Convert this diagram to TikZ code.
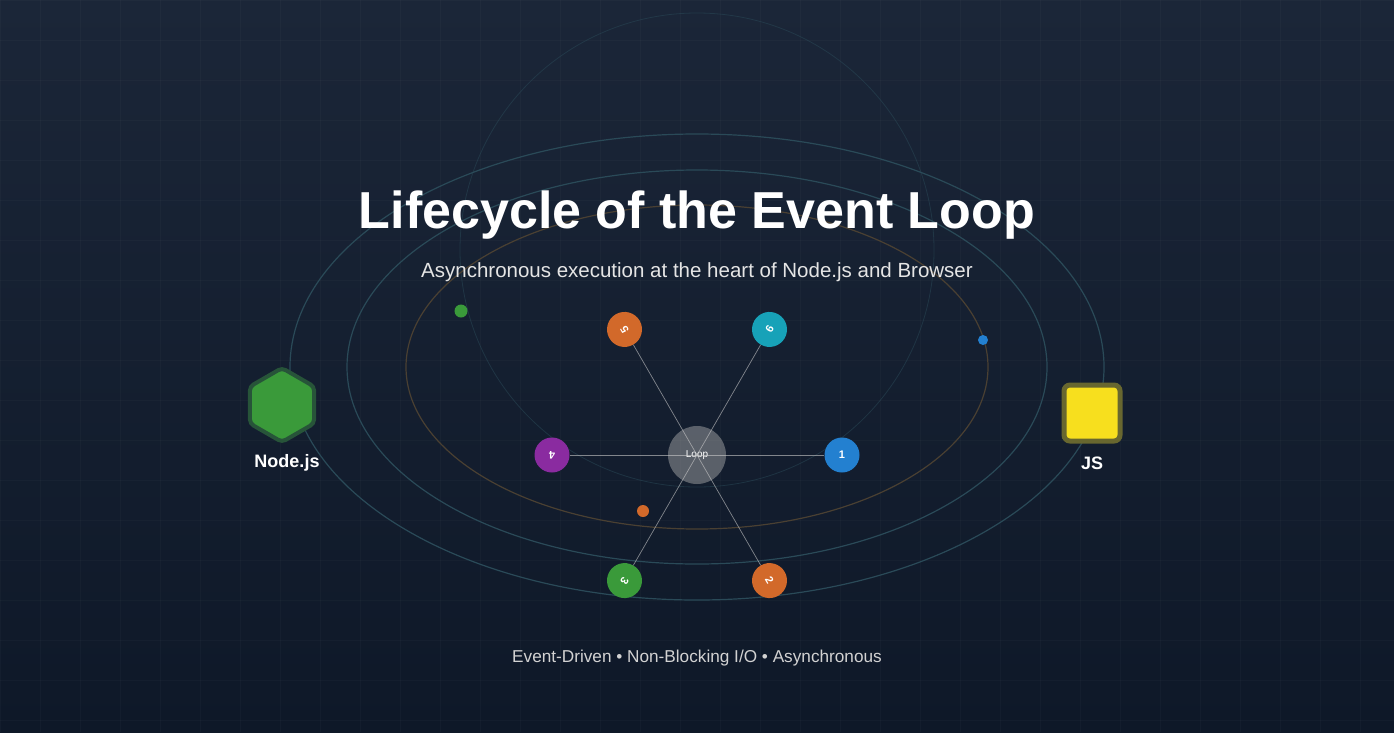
\documentclass[tikz,border=0pt]{standalone}
\usepackage{fontspec}
\setmainfont{Liberation Sans}
\usetikzlibrary{shapes.geometric, positioning, calc}
\definecolor{bgtop}{HTML}{1B2638}
\definecolor{bgbot}{HTML}{0E1828}
\definecolor{orbit}{HTML}{2A4A58}
\definecolor{orbitin}{HTML}{4A4032}
\definecolor{stepOrange}{HTML}{D2692A}
\definecolor{stepTeal}{HTML}{17A2B8}
\definecolor{stepGreen}{HTML}{3A9A3A}
\definecolor{stepPurple}{HTML}{8A2BA0}
\definecolor{stepBlue}{HTML}{2380D0}
\definecolor{jsyellow}{HTML}{F7DF1E}

\begin{document}
\begin{tikzpicture}[x=1pt, y=-1pt,
    phase/.style={circle, minimum size=35pt, inner sep=0pt, text=white, font=\bfseries\fontsize{11}{11}\selectfont},
    spoke/.style={draw=white!60!gray, opacity=0.6, line width=0.7pt},
    dot/.style={circle, inner sep=0pt}]
    % Background
    \shade[top color=bgtop, bottom color=bgbot] (0,0) rectangle (1394,732);
    \useasboundingbox (0,0) rectangle (1394,732);
    \foreach \gx in {0,40,...,1394} \draw[white, opacity=0.025] (\gx,0) -- (\gx,732);
    \foreach \gy in {0,40,...,732} \draw[white, opacity=0.025] (0,\gy) -- (1394,\gy);

    % Orbits
    \draw[orbit, opacity=0.5, line width=0.8pt] (697,250) circle (237);
    \draw[orbit, line width=1.2pt] (697,367) ellipse (407 and 233);
    \draw[orbit, line width=1.2pt] (697,367) ellipse (350 and 197);
    \draw[orbitin, line width=1.2pt] (697,367) ellipse (291 and 162);

    % Floating dots
    \node[dot, fill=stepGreen, minimum size=13pt] (d1) at (461,311) {};
    \node[dot, fill=stepBlue, minimum size=10pt] (d2) at (983,340) {};
    \node[dot, fill=stepOrange, minimum size=12pt] (d3) at (643,511) {};

    % Loop and phases
    \node[circle, fill=white!40!gray, fill opacity=0.45, minimum size=58pt, inner sep=0pt,
          text=white, text opacity=1, font=\fontsize{10}{10}\selectfont] (loop) at (697,455) {Loop};
    \foreach \i/\c in {1/stepBlue, 2/stepOrange, 3/stepGreen, 4/stepPurple, 5/stepOrange, 6/stepTeal} {
        \pgfmathsetmacro\ang{(\i-1)*60}
        \node[phase, fill=\c, rotate=-\ang] (s\i) at ($(697,455)+({145*cos(\ang)},{145*sin(\ang)})$) {\i};
        \draw[spoke] (loop.center) -- (s\i);
    }

    % Logos
    \node[regular polygon, regular polygon sides=6, shape border rotate=30, minimum size=74pt,
          fill=stepGreen, draw=stepGreen!40!bgtop, line width=4pt, rounded corners=4pt] (node) at (282,405) {};
    \node[text=white, font=\bfseries\fontsize{18}{18}\selectfont] (nodelbl) at (287,463) {Node.js};
    \node[rectangle, rounded corners=6pt, minimum size=56pt, fill=jsyellow,
          draw=jsyellow!35!bgtop, line width=5pt] (js) at (1092,413) {};
    \node[text=white, font=\bfseries\fontsize{18}{18}\selectfont] (jslbl) at (1092,463) {JS};

    % Texts
    \node[text=white, font=\bfseries\fontsize{52}{52}\selectfont] (title) at (697,215) {Lifecycle of the Event Loop};
    \node[text=white!80!gray, font=\fontsize{20.5}{20.5}\selectfont] (sub) at (697,272) {Asynchronous execution at the heart of Node.js and Browser};
    \node[text=white!65!gray, font=\fontsize{17.2}{17.2}\selectfont] (foot) at (697,658) {Event-Driven • Non-Blocking I/O • Asynchronous};
\end{tikzpicture}
\end{document}
